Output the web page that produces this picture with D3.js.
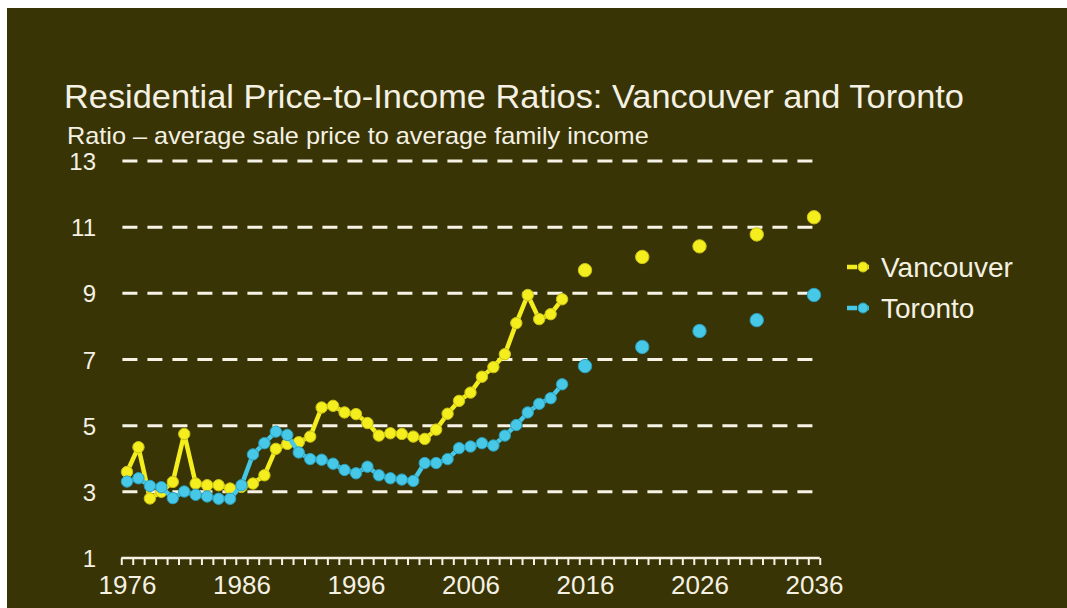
<!DOCTYPE html>
<html>
<head>
<meta charset="utf-8">
<script src="https://cdn.jsdelivr.net/npm/d3@7/dist/d3.min.js"></script>
<style>
  html, body { margin: 0; padding: 0; background: #ffffff; }
  svg { display: block; }
  text { font-family: "Liberation Sans", Arial, sans-serif; fill: #f4f1e3; }
</style>
</head>
<body>
<script>
// Historic annual ratios, 1976–2014
const histYears = d3.range(1976, 2015);
const vancouver = [3.6, 4.35, 2.8, 3.0, 3.3, 4.75, 3.25, 3.2, 3.2, 3.1,
  3.15, 3.25, 3.5, 4.3, 4.45, 4.5, 4.67, 5.55, 5.6, 5.4,
  5.35, 5.08, 4.7, 4.77, 4.75, 4.67, 4.6, 4.88, 5.36, 5.75,
  6.0, 6.48, 6.77, 7.16, 8.1, 8.95, 8.22, 8.37, 8.82];
const toronto = [3.31, 3.41, 3.18, 3.14, 2.81, 3.01, 2.91, 2.86, 2.79, 2.79,
  3.2, 4.13, 4.47, 4.82, 4.72, 4.19, 3.99, 3.97, 3.85, 3.66,
  3.56, 3.76, 3.5, 3.41, 3.37, 3.33, 3.87, 3.87, 3.99, 4.32,
  4.37, 4.47, 4.4, 4.7, 5.02, 5.4, 5.66, 5.83, 6.25];

// Projected ratios (markers only)
const projYears = [2016, 2021, 2026, 2031, 2036];
const vancouverProj = [9.7, 10.1, 10.42, 10.78, 11.3];
const torontoProj = [6.8, 7.38, 7.86, 8.19, 8.95];

// Axis labels
const xTickLabels = [1976, 1986, 1996, 2006, 2016, 2026, 2036];
const yTickLabels = [1, 3, 5, 7, 9, 11, 13];
const gridValues = [3, 5, 7, 9, 11, 13];

const seriesNames = ["Vancouver", "Toronto"];
const seriesColors = ["#f4ee1f", "#46c8e6"];
const seriesEdge = ["#c9c212", "#2a9fbd"];

const W = 1067, H = 608;
const svg = d3.select("body").append("svg").attr("width", W).attr("height", H);

// dark slide panel
svg.append("rect").attr("x", 7).attr("y", 8).attr("width", W - 7).attr("height", H - 8)
  .attr("fill", "#393405");

const x = d3.scaleLinear().domain([1976, 2036]).range([127, 814]);
const y = d3.scaleLinear().domain([1, 13]).range([558, 161]);

// Title and subtitle (slightly widened lettering)
svg.append("text").attr("transform", "translate(64,108) scale(1.02,1)")
  .attr("font-size", 33.7).text("Residential Price-to-Income Ratios: Vancouver and Toronto");
svg.append("text").attr("transform", "translate(67,144) scale(1.1,1)")
  .attr("font-size", 23).text("Ratio \u2013 average sale price to average family income");

// Dashed horizontal gridlines
svg.append("g").selectAll("line").data(gridValues).join("line")
  .attr("x1", x(1975.6)).attr("x2", x(2036.3))
  .attr("y1", d => y(d)).attr("y2", d => y(d))
  .attr("stroke", "#f6f3e6").attr("stroke-width", 3)
  .attr("stroke-dasharray", "15,10");

// Y labels
svg.append("g").selectAll("text").data(yTickLabels).join("text")
  .attr("x", 96).attr("y", d => y(d)).attr("dy", "0.38em")
  .attr("text-anchor", "end").attr("font-size", 24).text(d => d);

// X axis: comb of ticks between years
const tickAxis = d3.axisBottom(x)
  .tickValues(d3.range(1975.5, 2037, 1))
  .tickFormat("").tickSize(7).tickSizeOuter(0);
const gx = svg.append("g").attr("transform", `translate(0,${y(1)})`).call(tickAxis);
gx.select(".domain").attr("stroke", "#f6f3e6").attr("stroke-width", 2.5)
  .attr("d", `M${x(1975.5)},0H${x(2036.5)}`);
gx.selectAll(".tick line").attr("stroke", "#f6f3e6").attr("stroke-width", 2);

const labelAxis = d3.axisBottom(x).tickValues(xTickLabels).tickFormat(d3.format("d"))
  .tickSize(0).tickPadding(0);
const gl = svg.append("g").attr("transform", `translate(0,${y(1)})`).call(labelAxis);
gl.select(".domain").remove();
gl.selectAll("text").attr("font-size", 26).attr("dy", "1.38em")
  .attr("fill", "#f4f1e3").style("font-family", "'Liberation Sans', Arial, sans-serif");

// Series
const hist = [vancouver, toronto];
const proj = [vancouverProj, torontoProj];
const line = d3.line().x(d => x(d[0])).y(d => y(d[1]));

hist.forEach((vals, i) => {
  const pts = histYears.map((yr, k) => [yr, vals[k]]);
  const g = svg.append("g");
  g.append("path").datum(pts).attr("d", line)
    .attr("fill", "none").attr("stroke", seriesColors[i]).attr("stroke-width", 4.5)
    .attr("stroke-linejoin", "round");
  g.selectAll("circle").data(pts).join("circle")
    .attr("cx", d => x(d[0])).attr("cy", d => y(d[1])).attr("r", 5.7)
    .attr("fill", seriesColors[i]).attr("stroke", seriesEdge[i]).attr("stroke-width", 1);
  const pp = projYears.map((yr, k) => [yr, proj[i][k]]);
  g.selectAll("circle.proj").data(pp).join("circle").attr("class", "proj")
    .attr("cx", d => x(d[0])).attr("cy", d => y(d[1])).attr("r", 6.7)
    .attr("fill", seriesColors[i]).attr("stroke", seriesEdge[i]).attr("stroke-width", 1);
});

// Legend
const legend = svg.append("g");
seriesNames.forEach((name, i) => {
  const ly = 267 + i * 41;
  legend.append("line").attr("x1", 847).attr("x2", 879).attr("y1", ly).attr("y2", ly)
    .attr("stroke", seriesColors[i]).attr("stroke-width", 4.5).attr("stroke-dasharray", "10,2,10");
  legend.append("circle").attr("cx", 863).attr("cy", ly).attr("r", 5)
    .attr("fill", seriesColors[i]).attr("stroke", seriesEdge[i]).attr("stroke-width", 1);
  legend.append("text").attr("x", 881).attr("y", ly).attr("dy", "0.36em")
    .attr("font-size", 28).text(name);
});
</script>
</body>
</html>
